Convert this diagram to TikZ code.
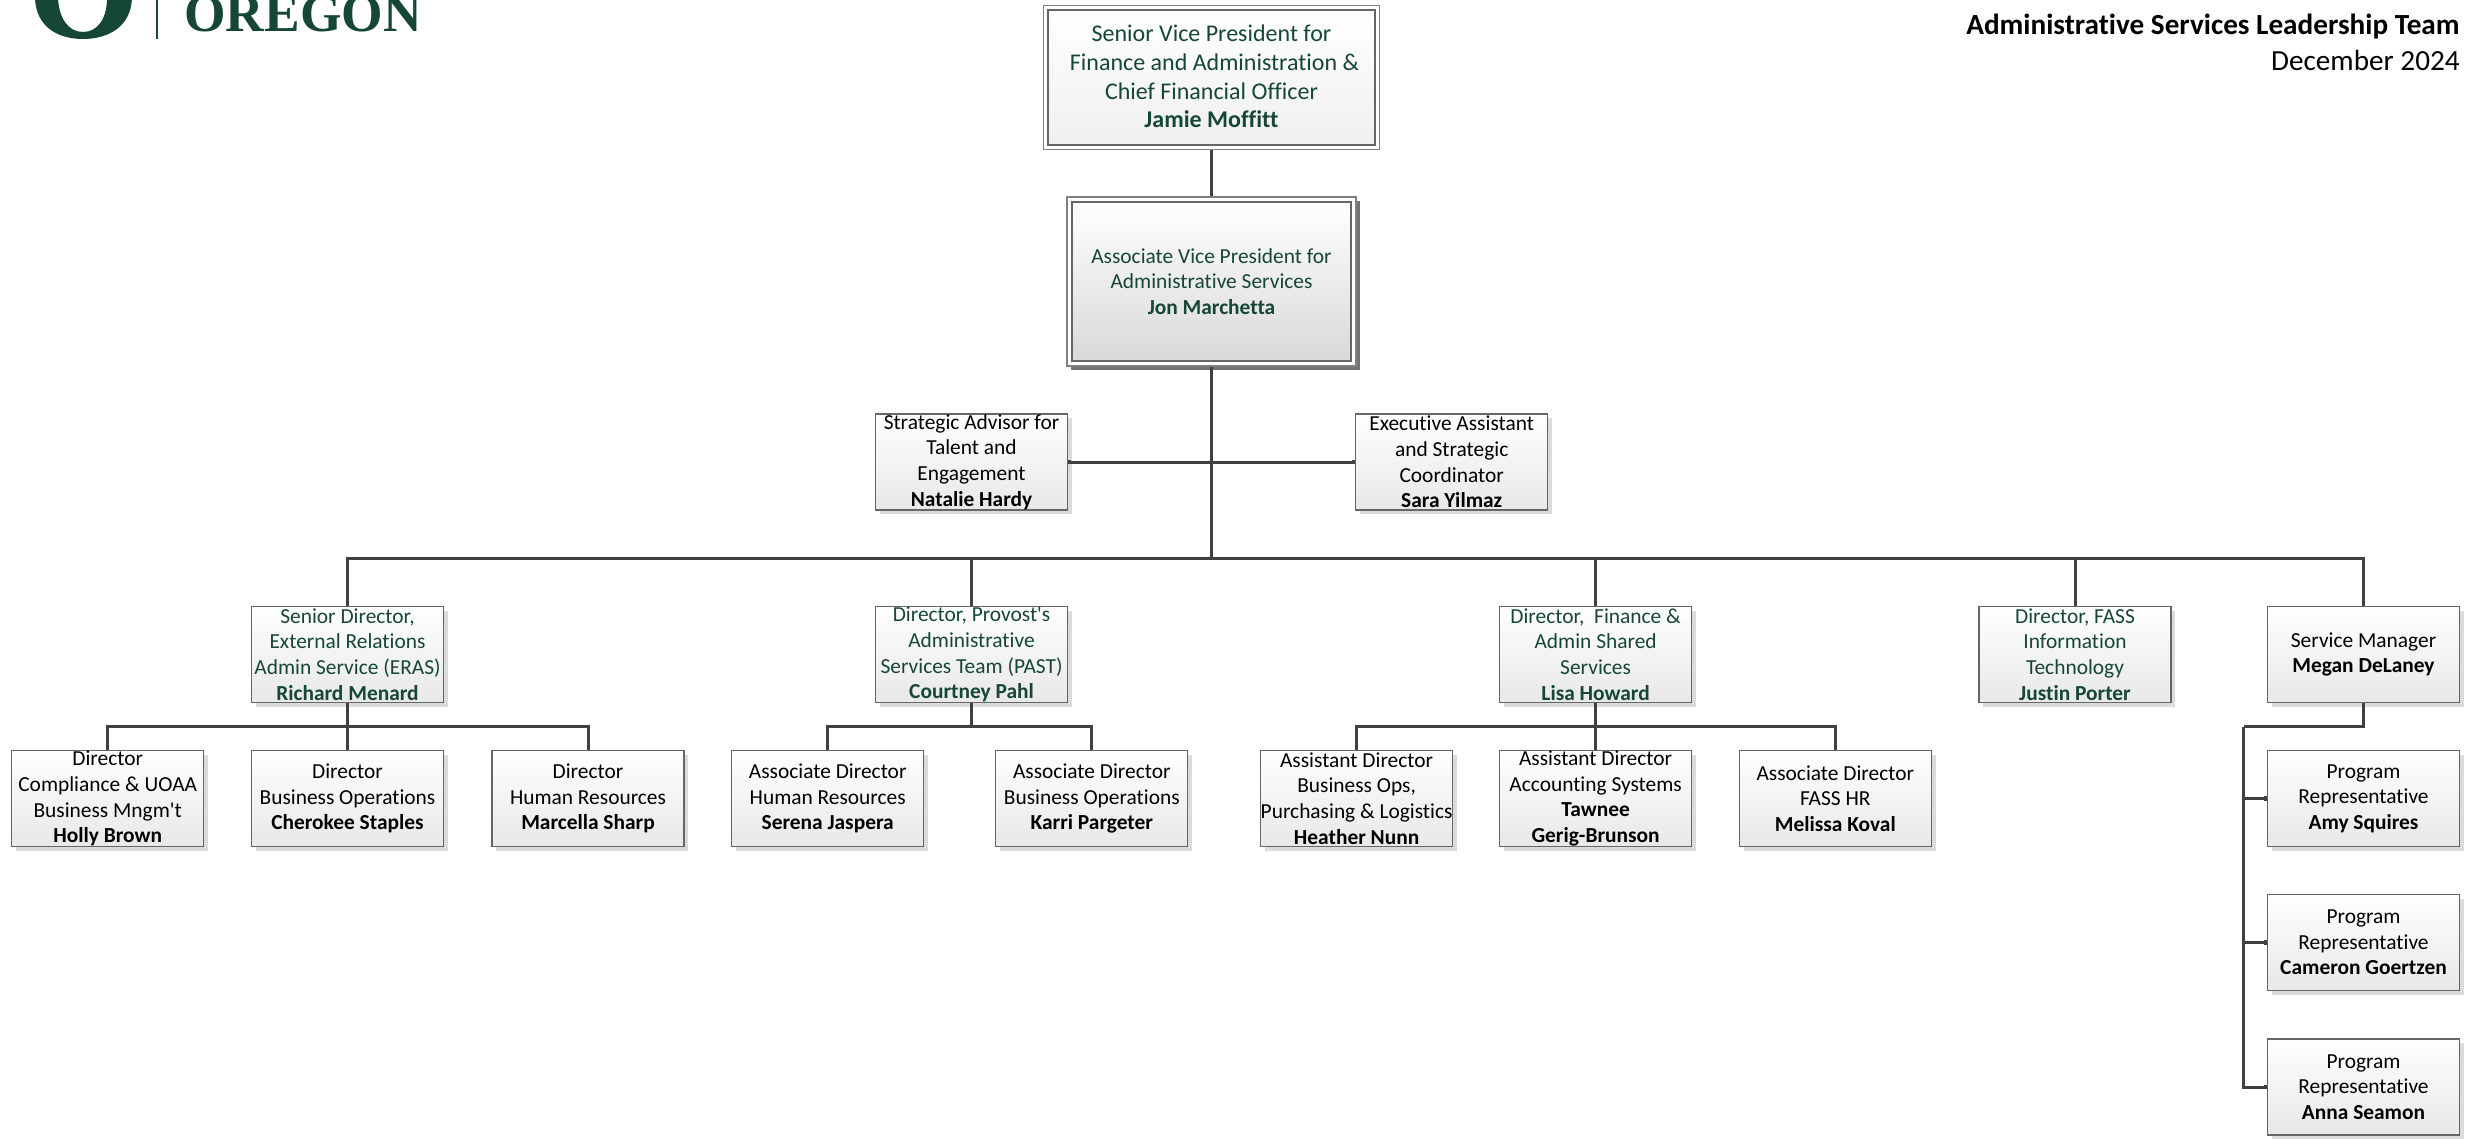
\documentclass[tikz,border=0pt]{standalone}
\usepackage{fontspec}
\setmainfont{Carlito}[Ligatures=NoCommon]
\newfontfamily\plainf{Carlito}[Ligatures=NoCommon]
\newfontfamily\logof{Liberation Serif}
\usetikzlibrary{shadows,arrows.meta}
\definecolor{uogreen}{HTML}{154734}
\definecolor{conn}{HTML}{404040}
\tikzset{
  x=0.5pt,y=-0.5pt,
  orgbox/.style={rectangle,draw=black!60,line width=0.65pt,minimum width=96pt,minimum height=48pt,inner sep=0pt,
    top color=white,bottom color=black!9,
    drop shadow={shadow xshift=2.2pt,shadow yshift=-2.2pt,fill=black!14,opacity=1}},
  orgtext/.style={align=center,inner sep=0pt,font=\fontsize{10.7}{12.83}\selectfont},
  green/.style={text=uogreen},
  link/.style={draw=conn,line width=1.5pt},
  tiplink/.style={link,-{Rectangle[length=1.3pt,width=2.4pt]}},
  outerbox/.style={rectangle,draw=black!50,line width=0.7pt,fill=white,inner sep=0pt},
}
\newcommand{\obox}[5]{%
  \node[orgbox] (#1) at (#2,#3) {};
  \node[orgtext,#4] (#1t) at (#1.center) {#5};
}
\begin{document}
\begin{tikzpicture}
\useasboundingbox (0,0) rectangle (2465,1139);
\clip (0,0) rectangle (2465,1139);
% logo
\fill[uogreen] (35,-2) .. controls (36,27) and (58,39) .. (83,39) .. controls (108,39) and (131,27) .. (132,-2) -- (107,-2) .. controls (107,18) and (98,32) .. (83,32) .. controls (68,32) and (59,18) .. (58,-2) -- cycle;
\fill[uogreen] (156.2,-2) rectangle (157.8,39);
\node[anchor=base west,inner sep=0pt,text=uogreen,font=\logof\fontsize{26.7}{30}\selectfont\bfseries] (oregon) at (184,32) {OREGON};
% title
\node[anchor=base east,inner sep=0pt,font=\fontsize{14.6}{17}\selectfont\bfseries] (ttl) at (2460,35) {Administrative Services Leadership Team};
\node[anchor=base east,inner sep=0pt,font=\fontsize{14.6}{17}\selectfont] (dt) at (2460,71) {December 2024};
% top boxes
\node[outerbox,minimum width=168pt,minimum height=72pt] (svpo) at (1211.5,77.5) {};
\node[rectangle,draw=black!60,line width=0.7pt,inner sep=0pt,top color=white,bottom color=black!6,minimum width=163.5pt,minimum height=67.5pt] (svp) at (svpo.center) {};
\node[align=center,inner sep=0pt,text=uogreen,font=\fontsize{12}{14.4}\selectfont] (svpt) at ([yshift=0.5pt]svp.center) {Senior Vice President for\\\hspace*{3pt}Finance and Administration \&\\Chief Financial Officer\\\textbf{Jamie Moffitt}};
\node[outerbox,minimum width=144.5pt,minimum height=84.5pt,drop shadow={shadow xshift=2pt,shadow yshift=-2pt,fill=black!55,opacity=1}] (avpo) at (1211.5,281.5) {};
\node[rectangle,draw=black!60,line width=0.7pt,inner sep=0pt,top color=white,bottom color=black!15,minimum width=139.5pt,minimum height=79.5pt] (avp) at (avpo.center) {};
\node[orgtext,green] (avpt) at (avp.center) {Associate Vice President for\\Administrative Services\\\textbf{Jon Marchetta}};
% row 2
\obox{adv}{971.5}{462}{}{Strategic Advisor for\\Talent and\\Engagement\\\textbf{Natalie Hardy}}
\obox{ea}{1451.7}{462}{}{Executive Assistant\\and Strategic\\Coordinator\\\textbf{Sara Yilmaz}}
% row 3
\obox{sd}{347.5}{654.5}{green}{Senior Director,\\External Relations\\Admin Service (ERAS)\\\textbf{Richard Menard}}
\obox{past}{971.5}{654.5}{green}{Director, Provost{\plainf\symbol{39}}s\\Administrative\\Services Team (PAST)\\\textbf{Courtney Pahl}}
\obox{fin}{1595.6}{654.5}{green}{Director,\ \ Finance \&\\Admin Shared\\Services\\\textbf{Lisa Howard}}
\obox{fass}{2075}{654.5}{green}{Director, FASS\\Information\\Technology\\\textbf{Justin Porter}}
\obox{sm}{2363.5}{654.5}{}{Service Manager\\\textbf{Megan DeLaney}}
% row 4
\obox{a}{107.7}{798.5}{}{Director\\Compliance \& UOAA\\Business Mngm{\plainf\symbol{39}}t\\\textbf{Holly Brown}}
\obox{b}{347.5}{798.5}{}{Director\\Business Operations\\\textbf{Cherokee Staples}}
\obox{c}{588}{798.5}{}{Director\\Human Resources\\\textbf{Marcella Sharp}}
\obox{d}{827.7}{798.5}{}{Associate Director\\Human Resources\\\textbf{Serena Jaspera}}
\obox{e}{1091.8}{798.5}{}{Associate Director\\Business Operations\\\textbf{Karri Pargeter}}
\obox{f}{1356.6}{798.5}{}{Assistant Director\\Business Ops,\\Purchasing \& Logistics\\\textbf{Heather Nunn}}
\obox{g}{1595.6}{798.5}{}{Assistant Director\\Accounting Systems\\\textbf{Tawnee}\\\textbf{Gerig-Brunson}}
\obox{h}{1835.3}{798.5}{}{Associate Director\\FASS HR\\\textbf{Melissa Koval}}
% program reps
\obox{p1}{2363.5}{798.5}{}{Program\\Representative\\\textbf{Amy Squires}}
\obox{p2}{2363.5}{942.5}{}{Program\\Representative\\\textbf{Cameron Goertzen}}
\obox{p3}{2363.5}{1087}{}{Program\\Representative\\\textbf{Anna Seamon}}
% junction points
\coordinate (busA) at (avpo.south |- 0,558);
\coordinate (busB) at (sd.south |- 0,726.5);
\coordinate (busC) at (past.south |- 0,726.5);
\coordinate (busD) at (fin.south |- 0,726.5);
\coordinate (busE) at (sm.south |- 0,726.5);
\coordinate (busF) at (2243.5,726.5);
% connectors
\draw[link] (svpo.south) -- (avpo.north);
\draw[link] (avpo.south) -- (busA);
\draw[link,{Rectangle[length=1.3pt,width=2.4pt]}-{Rectangle[length=1.3pt,width=2.4pt]}] (adv.east) -- (ea.west);
\foreach \t in {sd,past,fin,fass,sm} \draw[link] (busA) -| (\t.north);
\draw[link] (sd.south) -- (busB);
\foreach \t in {a,b,c} \draw[link] (busB) -| (\t.north);
\draw[link] (past.south) -- (busC);
\foreach \t in {d,e} \draw[link] (busC) -| (\t.north);
\draw[link] (fin.south) -- (busD);
\foreach \t in {f,g,h} \draw[link] (busD) -| (\t.north);
\draw[link] (sm.south) -- (busE) -- (busF);
\foreach \t in {p1,p2,p3} \draw[tiplink] (busF) |- (\t.west);
\end{tikzpicture}
\end{document}
